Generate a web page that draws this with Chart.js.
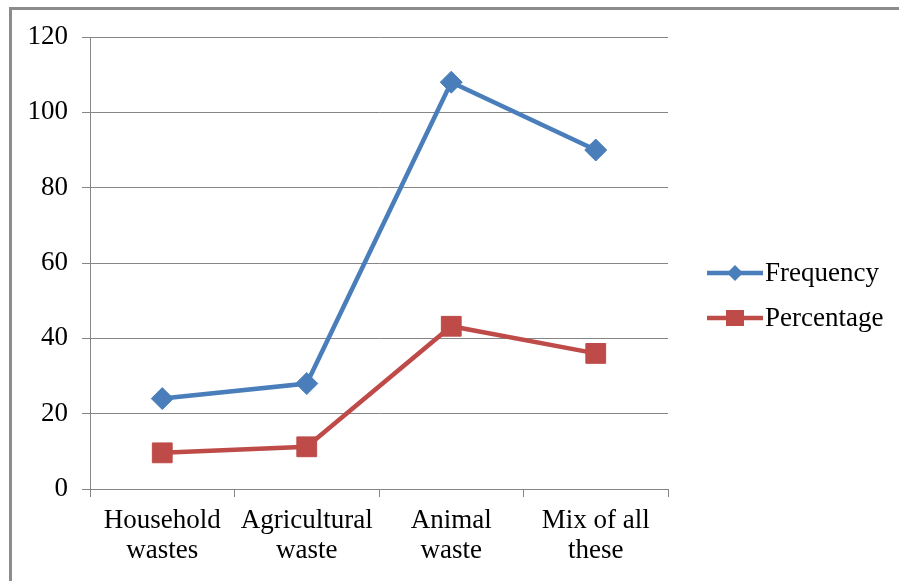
<!DOCTYPE html>
<html>
<head>
<meta charset="utf-8">
<script src="https://cdn.jsdelivr.net/npm/chart.js@4"></script>
<style>
  html, body { margin: 0; padding: 0; background: #fff; overflow: hidden; }
  #wrap { position: relative; width: 899px; height: 581px; }
  #frame { position: absolute; left: 9px; top: 7px; width: 1000px; height: 1000px;
           border-top: 3px solid #8c8c8c; border-left: 3px solid #8c8c8c; box-sizing: border-box; pointer-events: none; }
  canvas { position: absolute; left: 0; top: 0; }
</style>
</head>
<body>
<div id="wrap">
  <canvas id="c" width="899" height="581"></canvas>
  <div id="frame"></div>
</div>
<script>
const categories = [["Household", "wastes"], ["Agricultural", "waste"], ["Animal", "waste"], ["Mix of all", "these"]];
const frequency = [24, 28, 108, 90];
const percentage = [9.6, 11.2, 43.2, 36];
const seriesNames = ["Frequency", "Percentage"];
const yTicks = [0, 20, 40, 60, 80, 100, 120];

const BLUE = "#4A7EBB";
const RED = "#BE4B48";
const FONT = "'Liberation Serif', 'Times New Roman', serif";

const legendPlugin = {
  id: "customLegend",
  afterDraw(chart) {
    const ctx = chart.ctx;
    const x0 = chart.chartArea.right + 39;
    const items = [
      { name: seriesNames[0], color: BLUE, y: 273, marker: "diamond" },
      { name: seriesNames[1], color: RED, y: 318, marker: "square" }
    ];
    ctx.save();
    items.forEach(it => {
      ctx.strokeStyle = it.color;
      ctx.lineWidth = 4.5;
      ctx.beginPath();
      ctx.moveTo(x0, it.y);
      ctx.lineTo(x0 + 56, it.y);
      ctx.stroke();
      ctx.fillStyle = it.color;
      const cx = x0 + 28;
      ctx.beginPath();
      if (it.marker === "diamond") {
        ctx.moveTo(cx - 8, it.y);
        ctx.lineTo(cx, it.y - 8);
        ctx.lineTo(cx + 8, it.y);
        ctx.lineTo(cx, it.y + 8);
        ctx.closePath();
      } else {
        ctx.rect(cx - 9, it.y - 8, 18, 16);
      }
      ctx.fill();
      ctx.fillStyle = "#000";
      ctx.font = "27px " + FONT;
      ctx.textBaseline = "middle";
      ctx.textAlign = "left";
      ctx.fillText(it.name, x0 + 58, it.y + 1);
    });
    ctx.restore();
  }
};

new Chart(document.getElementById("c"), {
  type: "line",
  data: {
    labels: categories,
    datasets: [
      {
        label: seriesNames[0],
        data: frequency,
        borderColor: BLUE,
        backgroundColor: BLUE,
        borderWidth: 4.5,
        pointStyle: "rectRot",
        pointRadius: 11,
        pointBorderWidth: 1,
        pointBackgroundColor: BLUE,
        pointBorderColor: BLUE,
        tension: 0
      },
      {
        label: seriesNames[1],
        data: percentage,
        borderColor: RED,
        backgroundColor: RED,
        borderWidth: 4.5,
        pointStyle: "rect",
        pointRadius: 14,
        pointBorderWidth: 1,
        pointBackgroundColor: RED,
        pointBorderColor: RED,
        tension: 0
      }
    ]
  },
  options: {
    responsive: false,
    animation: false,
    devicePixelRatio: 1,
    layout: { padding: { left: 0, top: 37, right: 231, bottom: 0 } },
    plugins: { legend: { display: false }, tooltip: { enabled: false } },
    scales: {
      x: {
        type: "category",
        offset: true,
        grid: { display: true, offset: true, drawOnChartArea: false, drawTicks: true, tickLength: 8, color: "#868686", lineWidth: 1 },
        border: { display: true, color: "#868686", width: 1 },
        ticks: { color: "#000", font: { family: FONT, size: 27, lineHeight: 30 / 27 }, padding: 9, maxRotation: 0, autoSkip: false },
        afterFit(scale) { scale.height = 92; }
      },
      y: {
        min: 0,
        max: 120,
        afterBuildTicks(scale) { scale.ticks = yTicks.map(v => ({ value: v })); },
        grid: { color: "#868686", lineWidth: 1, drawTicks: true, tickLength: 8 },
        border: { display: true, color: "#868686", width: 1 },
        ticks: { color: "#000", font: { family: FONT, size: 27 }, padding: 14 },
        afterFit(scale) { scale.width = 90; }
      }
    }
  },
  plugins: [legendPlugin]
});
</script>
</body>
</html>
